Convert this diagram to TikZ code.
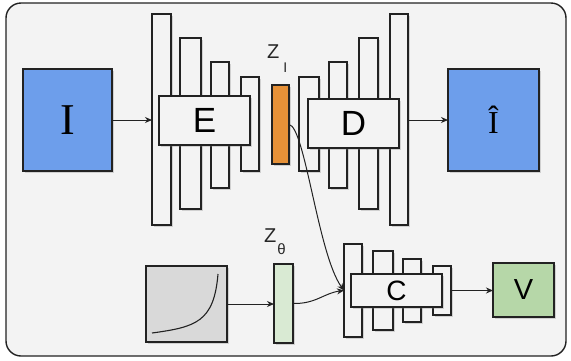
\documentclass[tikz,border=0pt]{standalone}
\usepackage{fontspec}
\setmainfont{Liberation Sans}
\newfontfamily\serifI{Liberation Serif}
\usetikzlibrary{arrows.meta,shadows}
\definecolor{bgc}{HTML}{F3F3F3}
\definecolor{barc}{HTML}{F3F3F3}
\definecolor{bluec}{HTML}{6D9EEB}
\definecolor{orangec}{HTML}{E69138}
\definecolor{lgreenc}{HTML}{D9EAD3}
\definecolor{greenc}{HTML}{B6D7A8}
\definecolor{grayc}{HTML}{D9D9D9}
\definecolor{linec}{HTML}{222222}
\newcommand\mkbox[7]{%
  \node[#6, anchor=north west, minimum width={(#4-#2)*1pt}, minimum height={(#5-#3)*1pt}] (#1) at (#2,#3) {#7};}
\begin{document}
\begin{tikzpicture}[x=1pt,y=-1pt,
  blk/.style={draw=linec, line width=1.3pt, inner sep=0pt, outer sep=0pt,
    drop shadow={shadow xshift=1.5pt, shadow yshift=-2.2pt, opacity=.3}},
  bar/.style={blk, fill=barc},
  lab/.style={blk, fill=barc, font=\fontsize{35}{35}\selectfont},
  arr/.style={-{Stealth[length=7pt,width=6pt]}, line width=1pt, draw=linec},
  lbl/.style={inner sep=0pt, font=\fontsize{20}{20}\selectfont, text=black!85}]
\useasboundingbox (0,0) rectangle (571,360);
\draw[rounded corners=15pt, fill=bgc, draw=linec, line width=1.4pt] (6,3) rectangle (566,356);
% input
\mkbox{I}{23}{69}{112}{171}{blk, fill=bluec}{\serifI\fontsize{44}{44}\selectfont I}
% encoder
\mkbox{e1}{152}{14}{171}{225}{bar}{}
\mkbox{e2}{180}{38}{201}{209}{bar}{}
\mkbox{e3}{211}{62}{229}{188}{bar}{}
\mkbox{e4}{241}{77}{259}{171}{bar}{}
\mkbox{E}{159}{96}{250}{145}{lab}{E}
% latent
\mkbox{zi}{272}{85}{289}{164}{blk, fill=orangec}{}
\node[lbl, anchor=base west] (zil) at (267,58) {Z\hspace{4pt}\raisebox{-14pt}{\fontsize{14}{14}\selectfont I}};
% decoder
\mkbox{d1}{299}{77}{319}{171}{bar}{}
\mkbox{d2}{329}{62}{347}{188}{bar}{}
\mkbox{d3}{359}{38}{378}{209}{bar}{}
\mkbox{d4}{390}{14}{408}{225}{bar}{}
\mkbox{D}{308}{99}{399}{148}{lab}{D}
% output
\mkbox{Ih}{448}{69}{539}{171}{blk, fill=bluec}{\serifI\fontsize{32}{32}\selectfont Î}
% bottom row
\mkbox{g}{146}{266}{227}{342}{blk, fill=grayc}{}
\draw[line width=1.1pt, draw=linec] (152,333) .. controls (196,327) and (214,322) .. (218,274);
\mkbox{zt}{274}{264}{293}{343}{blk, fill=lgreenc}{}
\node[lbl, anchor=base west] (ztl) at (264,242) {Z\hspace{1pt}\raisebox{-12pt}{\fontsize{15}{15}\selectfont θ}};
\mkbox{c1}{344}{244}{362}{337}{bar}{}
\mkbox{c2}{373}{251}{393}{330}{bar}{}
\mkbox{c3}{403}{259}{421}{322}{bar}{}
\mkbox{c4}{433}{266}{451}{315}{bar}{}
\mkbox{C}{351}{274}{442}{307}{lab, font=\fontsize{28}{28}\selectfont}{C}
\mkbox{V}{493}{263}{554}{317}{blk, fill=greenc, font=\fontsize{29}{29}\selectfont}{V}
% connectors
\draw[arr] (I.east) -- (I.east -| e1.west);
\draw[arr] (Ih.west -| d4.east) -- (Ih.west);
\draw[arr] (g.east) -- (g.east -| zt.west);
\draw[arr] (zt.east) .. controls (316,304) and (324,293) .. (c1.west);
\draw[arr] (zi.east) .. controls +(16,2) and +(-26,-36) .. (c1.west);
\draw[arr] (c4.east) -- (c4.east -| V.west);
\end{tikzpicture}
\end{document}
